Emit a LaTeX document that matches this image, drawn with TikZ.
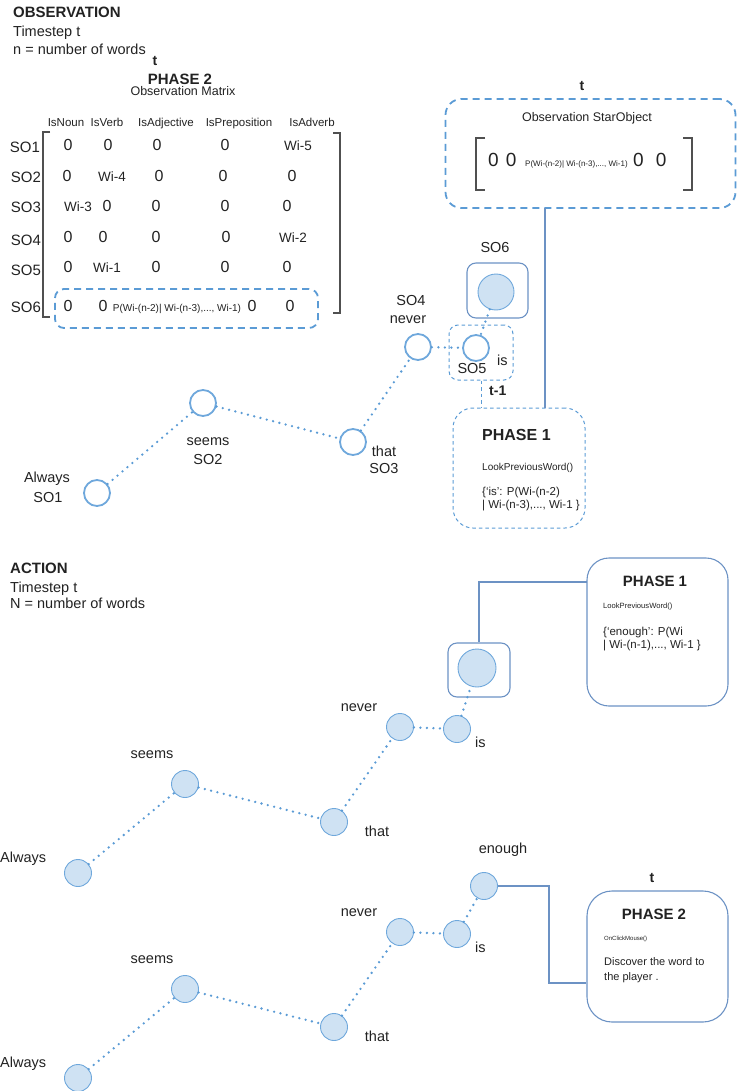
\documentclass[tikz,border=0pt]{standalone}
\usepackage{fontspec}
\setmainfont{Liberation Sans}
\usetikzlibrary{positioning}
\definecolor{ink}{RGB}{34,34,34}
\definecolor{soline}{RGB}{111,168,220}
\definecolor{sofill}{RGB}{207,226,243}
\definecolor{dashblue}{RGB}{91,155,213}
\definecolor{boxline}{RGB}{108,146,196}
\definecolor{brack}{RGB}{80,80,80}
\newcommand{\fsize}[1]{\fontsize{#1}{#1}\selectfont}
\tikzset{>=latex}
\tikzset{
  txt/.style={text=ink,inner sep=0pt,font=\fsize{14.5}},
  ttl/.style={text=ink,inner sep=0pt,font=\bfseries\fsize{15}},
  hdr/.style={text=ink,inner sep=0pt,font=\fsize{11.5}},
  zero/.style={text=ink,inner sep=0pt,font=\fsize{16}},
  wcell/.style={text=ink,inner sep=0pt,font=\fsize{13.5}},
  prob/.style={text=ink,inner sep=0pt,font=\fsize{10}},
  obsword/.style={circle,draw=soline,line width=1.8pt,fill=white,minimum size=26pt,inner sep=0pt},
  actword/.style={circle,draw=soline,line width=0.9pt,fill=sofill,minimum size=27pt,inner sep=0pt},
  link/.style={draw=dashblue,line width=2.6pt,line cap=round,dash pattern=on 0pt off 6.5pt},
  dbox/.style={draw=dashblue,line width=1.8pt,dash pattern=on 7pt off 5pt,rounded corners=12pt,inner sep=0pt},
  fbox/.style={draw=dashblue,line width=1pt,dash pattern=on 3.5pt off 3pt,rounded corners=14pt,inner sep=0pt},
  sbox/.style={draw=boxline,line width=1.1pt,rounded corners=9pt,inner sep=0pt},
  wire/.style={draw=boxline,line width=1.2pt},
}

\begin{document}
\begin{tikzpicture}[x=1pt,y=-1pt]
\useasboundingbox (0,0) rectangle (737,1091);

% observation part
\node[ttl,anchor=base west] (obs) at (13,18) {OBSERVATION};
\node[txt,anchor=base west] (obsstep) at (13,37) {Timestep t};
\node[txt,anchor=base west] (obsn) at (13,55) {n = number of words};
\node[ttl,anchor=base,font=\bfseries\fsize{14}] (obst) at (155,66) {t};

\node[ttl,anchor=base] (ph2) at (180,85) {PHASE 2};
\node[txt,anchor=base,font=\fsize{12.5}] (matname) at (183,96) {Observation Matrix};

\node[hdr,anchor=base] (hnoun) at (66,127) {IsNoun};
\node[hdr,anchor=base] (hverb) at (107,127) {IsVerb};
\node[hdr,anchor=base] (hadj) at (166,127) {IsAdjective};
\node[hdr,anchor=base] (hprep) at (239,127) {IsPreposition};
\node[hdr,anchor=base] (hadv) at (312,127) {IsAdverb};

\draw[brack,line width=1.3pt] (50,132) -- (43,132) -- (43,317) -- (50,317);
\draw[brack,line width=1.3pt] (333,133) -- (340,133) -- (340,313) -- (333,313);

\node[txt,anchor=base,font=\fsize{15}] (so1lbl) at (25,153) {SO1};
\node[txt,anchor=base,font=\fsize{15}] (so2lbl) at (26,183) {SO2};
\node[txt,anchor=base,font=\fsize{15}] (so3lbl) at (26,213) {SO3};
\node[txt,anchor=base,font=\fsize{15}] (so4lbl) at (26,245) {SO4};
\node[txt,anchor=base,font=\fsize{15}] (so5lbl) at (26,275) {SO5};
\node[txt,anchor=base,font=\fsize{15}] (so6lbl) at (26,312) {SO6};

\node[zero,anchor=base] (r1a) at (68,151) {0};
\node[zero,anchor=base] (r1b) at (108,151) {0};
\node[zero,anchor=base] (r1c) at (157,151) {0};
\node[zero,anchor=base] (r1d) at (225,151) {0};
\node[wcell,anchor=base] (r1e) at (298,151) {Wi-5};

\node[zero,anchor=base] (r2a) at (67,182) {0};
\node[wcell,anchor=base] (r2b) at (112,182) {Wi-4};
\node[zero,anchor=base] (r2c) at (159,182) {0};
\node[zero,anchor=base] (r2d) at (223,182) {0};
\node[zero,anchor=base] (r2e) at (292,182) {0};

\node[wcell,anchor=base] (r3a) at (78,212) {Wi-3};
\node[zero,anchor=base] (r3b) at (107,212) {0};
\node[zero,anchor=base] (r3c) at (156,212) {0};
\node[zero,anchor=base] (r3d) at (225,212) {0};
\node[zero,anchor=base] (r3e) at (287,212) {0};

\node[zero,anchor=base] (r4a) at (68,242) {0};
\node[zero,anchor=base] (r4b) at (103,242) {0};
\node[zero,anchor=base] (r4c) at (156,242) {0};
\node[zero,anchor=base] (r4d) at (226,242) {0};
\node[wcell,anchor=base] (r4e) at (293,242) {Wi-2};

\node[zero,anchor=base] (r5a) at (68,272) {0};
\node[wcell,anchor=base] (r5b) at (107,272) {Wi-1};
\node[zero,anchor=base] (r5c) at (156,272) {0};
\node[zero,anchor=base] (r5d) at (225,272) {0};
\node[zero,anchor=base] (r5e) at (287,272) {0};

\node[zero,anchor=base] (r6a) at (68,311) {0};
\node[zero,anchor=base] (r6b) at (103,311) {0};
\node[prob,anchor=base] (r6c) at (177,311) {P(Wi-(n-2)| Wi-(n-3),..., Wi-1)};
\node[zero,anchor=base] (r6d) at (252,311) {0};
\node[zero,anchor=base] (r6e) at (290,311) {0};
\node[dbox,minimum width=263pt,minimum height=39pt,rounded corners=9pt] (row6) at (186.5,308.5) {};

% star object
\node[ttl,anchor=base,font=\bfseries\fsize{14}] (start) at (582,91) {t};
\node[dbox,minimum width=290pt,minimum height=109pt,rounded corners=16pt] (starbox) at (590.5,153.5) {};
\node[txt,anchor=base,font=\fsize{12.5}] (starname) at (587,122) {Observation StarObject};
\draw[brack,line width=1.3pt] (485,138) -- (476,138) -- (476,190) -- (485,190);
\draw[brack,line width=1.3pt] (683,138) -- (692,138) -- (692,190) -- (683,190);
\node[zero,anchor=base west,font=\fsize{19}] (starl) at (488,167) {0\hspace{7pt}0};
\node[prob,anchor=base west,font=\fsize{8}] (starp) at (525,167) {P(Wi-(n-2)| Wi-(n-3),..., Wi-1)};
\node[zero,anchor=base west,font=\fsize{19}] (starr) at (633,167) {0\hspace{12pt}0};

% word graph at t-1
\node[obsword] (always) at (97,493) {};
\node[obsword] (seems) at (203,403) {};
\node[obsword] (that) at (353,442) {};
\node[obsword] (never) at (418,347) {};
\node[obsword] (so5) at (476,348) {};
\node[sbox,minimum width=61pt,minimum height=55pt] (so6box) at (497.5,290.5) {};
\node[circle,draw=soline,line width=0.9pt,fill=sofill,minimum size=36pt,inner sep=0pt] (so6) at (496,292) {};
\node[fbox,minimum width=64pt,minimum height=55pt,rounded corners=9pt] (so5box) at (481,352.5) {};

\node[txt,anchor=base] (alwayslbl) at (47,482) {Always};
\node[txt,anchor=base] (so1word) at (48,502) {SO1};
\node[txt,anchor=base] (seemslbl) at (208,445) {seems};
\node[txt,anchor=base] (so2word) at (208,464) {SO2};
\node[txt,anchor=base] (thatlbl) at (384,456) {that};
\node[txt,anchor=base] (so3word) at (384,473) {SO3};
\node[txt,anchor=base] (so4word) at (411,305) {SO4};
\node[txt,anchor=base] (neverlbl) at (408,323) {never};
\node[txt,anchor=base west] (islbl) at (497,365) {is};
\node[txt,anchor=base] (so5word) at (472,373) {SO5};
\node[txt,anchor=base] (so6word) at (495,252) {SO6};

\draw[link] (always) -- (seems);
\draw[link] (seems) -- (that);
\draw[link] (that) -- (never);
\draw[link] (never) -- (so5);
\draw[link] (so6) -- (so5);

% phase 1 of the observation
\node[fbox,minimum width=132pt,minimum height=120pt,rounded corners=20pt] (obsph1) at (519,468) {};
\node[ttl,anchor=base west,font=\bfseries\fsize{16}] (obsph1t) at (482,440) {PHASE 1};
\node[txt,anchor=base west,font=\fsize{10}] (obsph1f) at (482,470) {LookPreviousWord()};
\node[txt,anchor=base west,font=\fsize{11.5}] (obsph1a) at (482,495) {\{‘is’: P(Wi-(n-2)};
\node[txt,anchor=base west,font=\fsize{11.5}] (obsph1b) at (482,508) {| Wi-(n-3),..., Wi-1 \}};
\node[ttl,anchor=base west,font=\bfseries\fsize{14}] (tminus) at (489,395) {t-1};
\coordinate (drop) at (545,208);
\draw[wire] (drop) -- (drop |- obsph1.north);
\draw[draw=dashblue,line width=1pt,dash pattern=on 3.5pt off 3pt] (so5box.south) -- (so5box.south |- obsph1.north);

% action part
\node[ttl,anchor=base west] (act) at (10,573) {ACTION};
\node[txt,anchor=base west] (actstep) at (10,592) {Timestep t};
\node[txt,anchor=base west] (actn) at (10,608) {N = number of words};

\foreach \g/\dy in {1/0,2/205} {
  \node[actword] (alw\g) at (78,873+\dy) {};
  \node[actword] (see\g) at (185,784+\dy) {};
  \node[actword] (tha\g) at (334,822+\dy) {};
  \node[actword] (nev\g) at (400,727+\dy) {};
  \node[actword] (is\g) at (457,729+\dy) {};
  \node[txt,anchor=base west] (alwlbl\g) at (0,862+\dy) {Always};
  \node[txt,anchor=base] (seelbl\g) at (152,758+\dy) {seems};
  \node[txt,anchor=base] (thalbl\g) at (377,836+\dy) {that};
  \node[txt,anchor=base] (nevlbl\g) at (359,711+\dy) {never};
  \node[txt,anchor=base west] (islbl\g) at (475,747+\dy) {is};
  \draw[link] (alw\g) -- (see\g);
  \draw[link] (see\g) -- (tha\g);
  \draw[link] (tha\g) -- (nev\g);
  \draw[link] (nev\g) -- (is\g);
}

% phase 1 of the action
\node[sbox,minimum width=62pt,minimum height=54pt] (pickbox) at (479,670) {};
\node[actword,minimum size=38pt] (pick) at (477,668) {};
\draw[link] (is1) -- (pick);
\node[sbox,minimum width=141pt,minimum height=148pt,rounded corners=22pt] (actph1) at (657.5,632) {};
\node[ttl,anchor=base] (actph1t) at (655,586) {PHASE 1};
\node[txt,anchor=base west,font=\fsize{7.6}] (actph1f) at (603,608) {LookPreviousWord()};
\node[txt,anchor=base west,font=\fsize{11.5}] (actph1a) at (603,635) {\{‘enough’: P(Wi};
\node[txt,anchor=base west,font=\fsize{11.5}] (actph1b) at (603,648) {| Wi-(n-1),..., Wi-1 \}};
\coordinate (tap) at (587,582);
\draw[wire] (tap) -| (pickbox.north);

% phase 2 of the action
\node[actword] (enough) at (484,886) {};
\node[txt,anchor=base] (enoughlbl) at (503,853) {enough};
\draw[link] (is2) -- (enough);
\node[ttl,anchor=base,font=\bfseries\fsize{14}] (actt) at (652,882) {t};
\node[sbox,minimum width=141pt,minimum height=131pt,rounded corners=25pt] (actph2) at (657.5,956.5) {};
\node[ttl,anchor=base] (actph2t) at (654,919) {PHASE 2};
\node[txt,anchor=base west,font=\fsize{6}] (actph2f) at (604,940) {OnClickMouse()};
\node[txt,anchor=base west,font=\fsize{11}] (actph2a) at (604,965) {Discover the word to};
\node[txt,anchor=base west,font=\fsize{11}] (actph2b) at (604,980) {the player .};
\coordinate (bend) at (549,983);
\draw[wire] (enough.east) -| (bend) -- (bend -| actph2.west);
\end{tikzpicture}
\end{document}
